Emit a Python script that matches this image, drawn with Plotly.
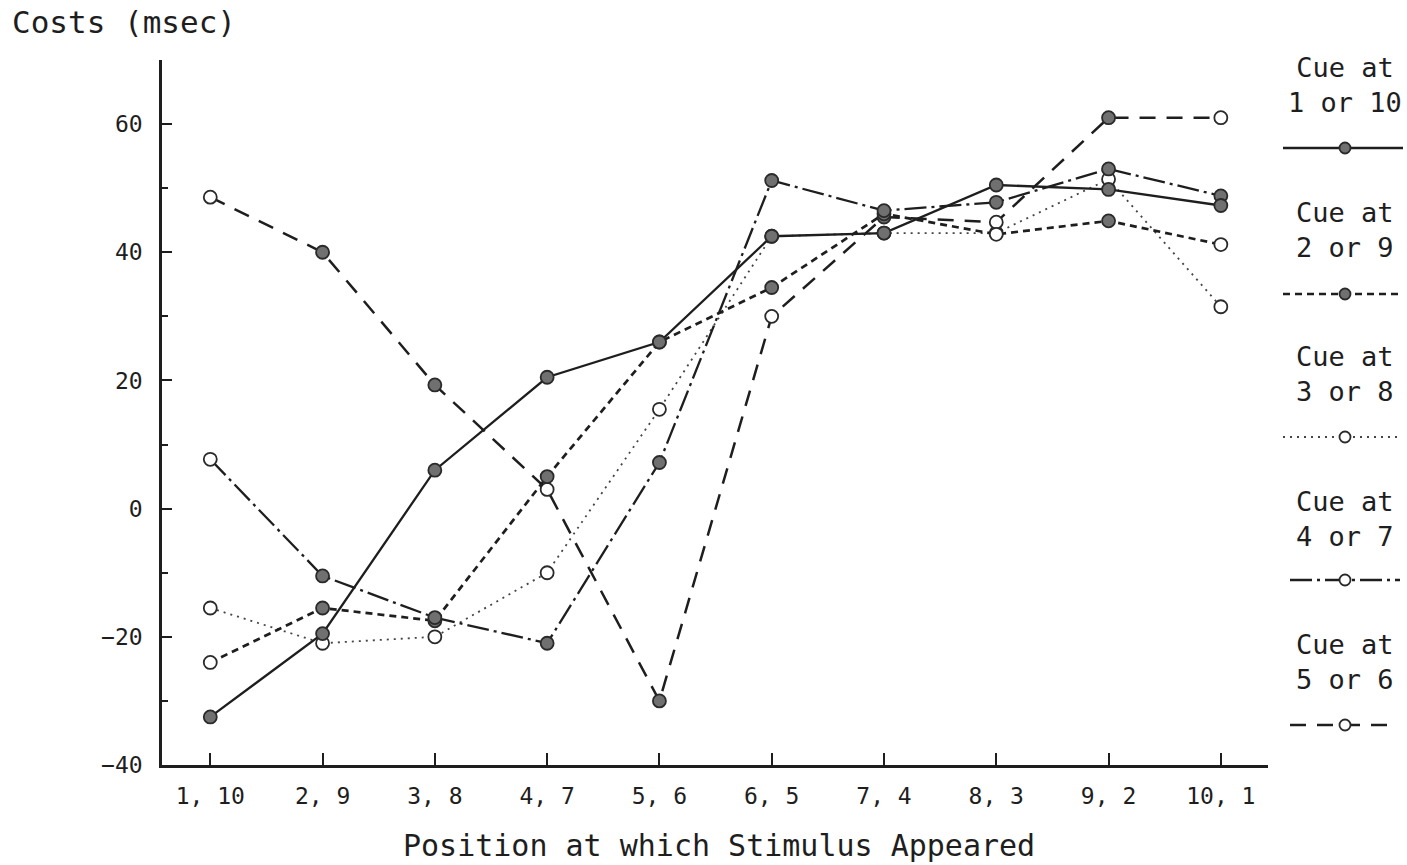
import plotly.graph_objects as go

# ---------------- data ----------------
positions = ["1, 10", "2, 9", "3, 8", "4, 7", "5, 6", "6, 5", "7, 4", "8, 3", "9, 2", "10, 1"]
cue_1_10 = [-32.5, -19.5, 6.0, 20.5, 26.0, 42.5, 43.0, 50.5, 49.8, 47.3]
cue_2_9 = [-24.0, -15.5, -17.5, 5.0, 26.0, 34.5, 46.0, 42.8, 44.9, 41.2]
cue_3_8 = [-15.5, -21.0, -20.0, -10.0, 15.5, 42.5, 43.0, 43.0, 51.4, 31.5]
cue_4_7 = [7.7, -10.5, -17.0, -21.0, 7.2, 51.2, 46.5, 47.8, 53.0, 48.8]
cue_5_6 = [48.6, 40.0, 19.3, 3.0, -30.0, 30.0, 45.5, 44.7, 61.0, 61.0]
series_names = ["Cue at<br>1 or 10", "Cue at<br>2 or 9", "Cue at<br>3 or 8",
                "Cue at<br>4 or 7", "Cue at<br>5 or 6"]
y_title = "Costs (msec)"
x_title = "Position at which Stimulus Appeared"

# ---------------- styles ----------------
INK = "#1e1e1e"
FILL = "#707070"
OPEN = "white"
FONT = "DejaVu Sans Mono"
F, O = FILL, OPEN
styles = [
    dict(dash="solid", width=2.3, color=INK, fills=[F] * 10, legfill=F),
    dict(dash="7px,5px", width=2.7, color=INK, fills=[O, F, F, F, F, F, F, O, F, O], legfill=F),
    dict(dash="2px,5px", width=1.8, color="#444", fills=[O] * 10, legfill=O),
    dict(dash="22px,5px,3px,5px", width=2.3, color=INK, fills=[O] + [F] * 9, legfill=O),
    dict(dash="16px,11px", width=2.5, color=INK, fills=[O, F, F, O, F, O, F, O, F, O], legfill=O),
]
all_series = [cue_1_10, cue_2_9, cue_3_8, cue_4_7, cue_5_6]
draw_order = [2, 4, 1, 3, 0]

W, H = 1407, 865
L, T, B = 162, 60, 100
plot_w = W - L
main_right = 1268
leg_left = 1282

fig = go.Figure()

for i in draw_order:
    vals, st, name = all_series[i], styles[i], series_names[i]
    fig.add_trace(go.Scatter(
        x=positions, y=vals, mode="lines+markers", name=name,
        line=dict(color=st["color"], width=st["width"], dash=st["dash"]),
        marker=dict(symbol="circle", size=13, color=st["fills"],
                    line=dict(color="#2a2a2a", width=1.8)),
        showlegend=False, xaxis="x", yaxis="y", cliponaxis=False,
    ))

# ---------------- custom legend (pixel-coordinate helper axes) ----------------
leg_rows = [(68, 148, 1283, 1403), (213, 294, 1283, 1400), (357, 437, 1283, 1400),
            (502, 580, 1290, 1400), (645, 725, 1290, 1392)]
annotations = []
for (ty, ly, x0, x1), st, name in zip(leg_rows, styles, series_names):
    fig.add_trace(go.Scatter(
        x=[x0, x1], y=[ly, ly], mode="lines",
        line=dict(color=st["color"], width=st["width"], dash=st["dash"]),
        showlegend=False, hoverinfo="skip", xaxis="x2", yaxis="y2", cliponaxis=False,
    ))
    fig.add_trace(go.Scatter(
        x=[1345], y=[ly], mode="markers",
        marker=dict(symbol="circle", size=11, color=st["legfill"],
                    line=dict(color="#2a2a2a", width=1.8)),
        showlegend=False, hoverinfo="skip", xaxis="x2", yaxis="y2", cliponaxis=False,
    ))
    annotations.append(dict(
        text=name, x=1345, y=ty + 17, xref="x2", yref="y2",
        showarrow=False, xanchor="center", yanchor="middle", align="center",
        font=dict(family=FONT, size=27, color=INK),
    ))

annotations.append(dict(
    text=y_title, xref="paper", yref="paper",
    x=(10 - L) / plot_w, y=(H - B - 22) / (H - T - B),
    xanchor="left", yanchor="middle", showarrow=False,
    font=dict(family=FONT, size=31, color=INK),
))
annotations.append(dict(
    text=x_title, xref="paper", yref="paper",
    x=(719 - L) / plot_w, y=(H - B - 845) / (H - T - B),
    xanchor="center", yanchor="middle", showarrow=False,
    font=dict(family=FONT, size=30, color=INK),
))

fig.update_layout(
    width=W, height=H,
    margin=dict(l=L, r=0, t=T, b=B, pad=0),
    paper_bgcolor="white", plot_bgcolor="white",
    font=dict(family=FONT, color=INK),
    showlegend=False,
    xaxis=dict(
        domain=[0, (main_right - L) / plot_w],
        type="category", range=[-0.43, 9.42],
        showline=True, linecolor=INK, linewidth=2.5,
        ticks="inside", ticklen=12, tickwidth=2, tickcolor=INK,
        showgrid=False, zeroline=False,
        tickfont=dict(family=FONT, size=23, color=INK),
        ticklabelstandoff=9,
    ),
    yaxis=dict(
        range=[-40, 70], dtick=20, tick0=0,
        showline=True, linecolor=INK, linewidth=2.5,
        ticks="inside", ticklen=10, tickwidth=2, tickcolor=INK,
        minor=dict(dtick=10, tick0=0, ticks="inside", ticklen=6, tickwidth=1.5, tickcolor=INK),
        showgrid=False, zeroline=False,
        tickfont=dict(family=FONT, size=23, color=INK),
        ticklabelstandoff=12,
    ),
    xaxis2=dict(domain=[(leg_left - L) / plot_w, 1], range=[leg_left, W],
                visible=False, anchor="y2"),
    yaxis2=dict(domain=[0, 1], range=[H - B, T], visible=False, anchor="x2"),
    annotations=annotations,
)

fig.write_html("out.html")
